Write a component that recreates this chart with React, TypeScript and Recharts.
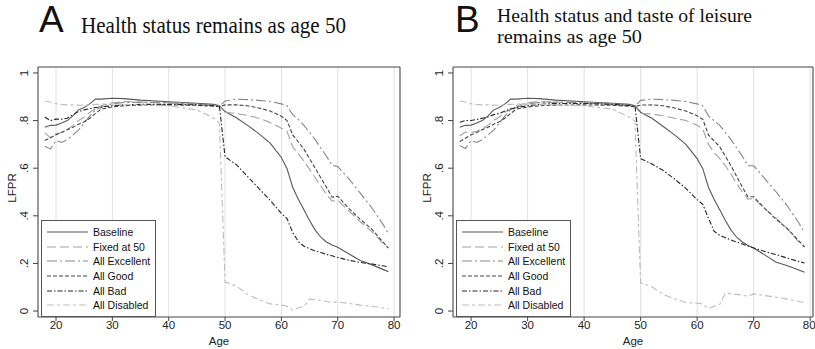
import { CartesianGrid, Legend, Line, LineChart, ReferenceArea, XAxis, YAxis } from "recharts";

// ages where the simulated series are sampled
const AGES = [18, 19, 20, 21, 22, 23, 24, 25, 26, 27, 28, 30, 32, 35, 40, 45, 48, 49, 50, 52, 54, 56, 58, 60, 61, 62, 63, 64, 65, 66, 67, 68, 69, 70, 72, 74, 76, 78, 79];

// panel A: health status held at age-50 level
const BASELINE_A = [0.772, 0.78, 0.781, 0.79, 0.8, 0.82, 0.845, 0.855, 0.87, 0.89, 0.89, 0.894, 0.892, 0.886, 0.879, 0.873, 0.868, 0.862, 0.838, 0.812, 0.78, 0.745, 0.705, 0.645, 0.598, 0.52, 0.47, 0.425, 0.38, 0.34, 0.31, 0.29, 0.277, 0.268, 0.24, 0.212, 0.195, 0.175, 0.165];
const FIXED_A = [0.748, 0.728, 0.745, 0.75, 0.762, 0.78, 0.8, 0.815, 0.835, 0.85, 0.862, 0.875, 0.88, 0.878, 0.875, 0.87, 0.864, 0.86, 0.835, 0.83, 0.822, 0.81, 0.792, 0.768, 0.755, 0.69, 0.66, 0.63, 0.595, 0.56, 0.525, 0.49, 0.462, 0.465, 0.42, 0.375, 0.335, 0.285, 0.263];
const EXCELLENT_A = [0.692, 0.68, 0.716, 0.708, 0.72, 0.74, 0.76, 0.79, 0.82, 0.845, 0.855, 0.87, 0.876, 0.877, 0.874, 0.869, 0.864, 0.86, 0.882, 0.89, 0.888, 0.885, 0.88, 0.87, 0.862, 0.825, 0.805, 0.78, 0.75, 0.72, 0.685, 0.65, 0.612, 0.607, 0.555, 0.495, 0.435, 0.365, 0.325];
const GOOD_A = [0.716, 0.728, 0.74, 0.75, 0.762, 0.772, 0.785, 0.795, 0.81, 0.83, 0.848, 0.857, 0.862, 0.865, 0.866, 0.864, 0.86, 0.858, 0.866, 0.866, 0.862, 0.853, 0.84, 0.818, 0.8, 0.74, 0.71, 0.68, 0.64, 0.6, 0.56, 0.52, 0.478, 0.482, 0.43, 0.385, 0.345, 0.29, 0.265];
const BAD_A = [0.815, 0.8, 0.806, 0.806, 0.81, 0.825, 0.838, 0.845, 0.85, 0.855, 0.857, 0.862, 0.866, 0.868, 0.868, 0.866, 0.862, 0.86, 0.648, 0.615, 0.565, 0.515, 0.465, 0.41, 0.388, 0.33, 0.292, 0.272, 0.262, 0.252, 0.246, 0.238, 0.232, 0.225, 0.213, 0.204, 0.198, 0.19, 0.186];
const DISABLED_A = [0.882, 0.878, 0.871, 0.868, 0.866, 0.866, 0.865, 0.864, 0.866, 0.868, 0.869, 0.87, 0.868, 0.866, 0.862, 0.845, 0.81, 0.79, 0.122, 0.105, 0.07, 0.048, 0.03, 0.025, 0.02, 0.004, 0.014, 0.02, 0.05, 0.048, 0.044, 0.04, 0.036, 0.038, 0.032, 0.025, 0.02, 0.013, 0.01];

// panel B: health status and taste of leisure held at age-50 level
const BASELINE_B = [0.772, 0.78, 0.781, 0.79, 0.8, 0.82, 0.845, 0.855, 0.87, 0.89, 0.89, 0.894, 0.892, 0.886, 0.879, 0.873, 0.868, 0.862, 0.835, 0.81, 0.775, 0.74, 0.7, 0.64, 0.598, 0.52, 0.47, 0.425, 0.38, 0.34, 0.31, 0.29, 0.275, 0.265, 0.235, 0.205, 0.19, 0.172, 0.163];
const FIXED_B = [0.736, 0.752, 0.75, 0.755, 0.765, 0.78, 0.8, 0.815, 0.835, 0.85, 0.862, 0.875, 0.88, 0.878, 0.875, 0.87, 0.864, 0.86, 0.83, 0.828, 0.82, 0.81, 0.8, 0.78, 0.765, 0.7, 0.665, 0.64, 0.61, 0.575, 0.535, 0.5, 0.47, 0.472, 0.43, 0.39, 0.345, 0.29, 0.268];
const EXCELLENT_B = [0.695, 0.683, 0.716, 0.708, 0.72, 0.74, 0.76, 0.79, 0.82, 0.845, 0.855, 0.87, 0.876, 0.877, 0.874, 0.869, 0.864, 0.86, 0.885, 0.89, 0.888, 0.885, 0.88, 0.87, 0.862, 0.82, 0.8, 0.78, 0.75, 0.72, 0.685, 0.65, 0.61, 0.61, 0.555, 0.5, 0.44, 0.37, 0.328];
const GOOD_B = [0.712, 0.726, 0.74, 0.75, 0.762, 0.772, 0.785, 0.795, 0.81, 0.83, 0.848, 0.857, 0.862, 0.865, 0.866, 0.864, 0.86, 0.858, 0.865, 0.866, 0.862, 0.853, 0.84, 0.82, 0.805, 0.74, 0.715, 0.69, 0.65, 0.61, 0.565, 0.52, 0.48, 0.48, 0.43, 0.385, 0.345, 0.295, 0.27];
const BAD_B = [0.793, 0.8, 0.8, 0.805, 0.81, 0.815, 0.825, 0.83, 0.84, 0.848, 0.855, 0.862, 0.868, 0.872, 0.872, 0.868, 0.863, 0.862, 0.64, 0.618, 0.59, 0.555, 0.515, 0.468, 0.448, 0.39, 0.335, 0.318, 0.308, 0.298, 0.29, 0.282, 0.273, 0.265, 0.25, 0.237, 0.222, 0.208, 0.202];
const DISABLED_B = [0.882, 0.878, 0.871, 0.868, 0.866, 0.866, 0.865, 0.864, 0.866, 0.868, 0.869, 0.87, 0.868, 0.866, 0.862, 0.848, 0.815, 0.798, 0.118, 0.102, 0.07, 0.052, 0.036, 0.033, 0.03, 0.01, 0.02, 0.028, 0.075, 0.073, 0.07, 0.066, 0.062, 0.072, 0.065, 0.058, 0.05, 0.04, 0.035];

const X_TICKS = [20, 30, 40, 50, 60, 70, 80];
const Y_TICKS = [0, 0.2, 0.4, 0.6, 0.8, 1];
const Y_LABELS = ["0", ".2", ".4", ".6", ".8", "1"];
const Y_DOMAIN: [number, number] = [-0.025, 1.025];
const X_MIN = 16.8;

type SeriesStyle = { key: string; name: string; color: string; dash?: string };

const SERIES: SeriesStyle[] = [
  { key: "baseline", name: "Baseline", color: "#585858" },
  { key: "fixed", name: "Fixed at 50", color: "#a2a2a2", dash: "9 4" },
  { key: "excellent", name: "All Excellent", color: "#878787", dash: "10 3 2 3" },
  { key: "good", name: "All Good", color: "#474747", dash: "4 2" },
  { key: "bad", name: "All Bad", color: "#262626", dash: "5 2 1.5 2" },
  { key: "disabled", name: "All Disabled", color: "#bdbdbd", dash: "7 3 3 3" },
];

function buildRows(cols: Record<string, number[]>) {
  return AGES.map((age, i) => {
    const row: Record<string, number> = { age };
    for (const k of Object.keys(cols)) row[k] = cols[k][i];
    return row;
  });
}

const DATA_A = buildRows({ baseline: BASELINE_A, fixed: FIXED_A, excellent: EXCELLENT_A, good: GOOD_A, bad: BAD_A, disabled: DISABLED_A });
const DATA_B = buildRows({ baseline: BASELINE_B, fixed: FIXED_B, excellent: EXCELLENT_B, good: GOOD_B, bad: BAD_B, disabled: DISABLED_B });

const SANS = '"Liberation Sans", Arial, Helvetica, sans-serif';
const SERIF = '"Liberation Serif", "Times New Roman", serif';

function YTick({ x, y, payload }: any) {
  const label = Y_LABELS[Y_TICKS.indexOf(payload.value)];
  return (
    <text transform={`translate(${x - 5},${y}) rotate(-90)`} textAnchor="middle" fontSize={11.5} fill="#222" fontFamily={SANS}>
      {label}
    </text>
  );
}

function LegendBox() {
  return (
    <div style={{ border: "1px solid #555", background: "#fff", padding: "4px 0 3px 0", fontFamily: SANS, fontSize: 10.5, color: "#111" }}>
      {SERIES.map((s) => (
        <div key={s.key} style={{ display: "flex", alignItems: "center", height: 14.6 }}>
          <svg width={41} height={6} style={{ marginLeft: 5, marginRight: 5 }}>
            <line x1={0} y1={3} x2={41} y2={3} stroke={s.color} strokeWidth={1.1} strokeDasharray={s.dash} />
          </svg>
          <span>{s.name}</span>
        </div>
      ))}
    </div>
  );
}

type PanelProps = {
  data: Record<string, number>[];
  left: number;
  width: number;
  xMax: number;
  marginLeft: number;
  marginRight: number;
};

function Panel({ data, left, width, xMax, marginLeft, marginRight }: PanelProps) {
  return (
    <div style={{ position: "absolute", left, top: 0 }}>
      <LineChart width={width} height={349} data={data} margin={{ top: 67, right: marginRight, bottom: 0, left: marginLeft }}>
        <CartesianGrid horizontal={false} stroke="#e0e0e0" />
        <XAxis
          type="number"
          dataKey="age"
          domain={[X_MIN, xMax]}
          ticks={X_TICKS}
          allowDataOverflow
          height={32}
          axisLine={false}
          tickSize={4}
          tickMargin={0}
          tickLine={{ stroke: "#444" }}
          tick={{ fill: "#222", fontSize: 11.5, fontFamily: SANS }}
          label={{ value: "Age", position: "insideBottom", offset: 4, fill: "#222", fontSize: 11.5, fontFamily: SANS }}
        />
        <YAxis
          type="number"
          domain={Y_DOMAIN}
          ticks={Y_TICKS}
          allowDataOverflow
          width={30}
          axisLine={false}
          tickSize={5}
          tickMargin={0}
          tickLine={{ stroke: "#444" }}
          tick={<YTick />}
        />
        {SERIES.map((s) => (
          <Line
            key={s.key}
            dataKey={s.key}
            name={s.name}
            type="linear"
            stroke={s.color}
            strokeWidth={1.1}
            strokeDasharray={s.dash}
            dot={false}
            activeDot={false}
            isAnimationActive={false}
          />
        ))}
        <ReferenceArea x1={X_MIN} x2={xMax} y1={Y_DOMAIN[0]} y2={Y_DOMAIN[1]} fill="none" stroke="#444" strokeWidth={1} ifOverflow="visible" />
        <Legend
          layout="vertical"
          align="center"
          verticalAlign="middle"
          content={() => <LegendBox />}
          wrapperStyle={{ left: marginLeft + 33, top: 220, width: 115 }}
        />
      </LineChart>
    </div>
  );
}

export default function App() {
  return (
    <div style={{ position: "absolute", left: 0, top: 0, width: 815, height: 349, background: "#fff", overflow: "hidden" }}>
      <Panel data={DATA_A} left={0} width={410} xMax={81.05} marginLeft={8} marginRight={10} />
      <Panel data={DATA_B} left={410} width={405} xMax={80.5} marginLeft={13} marginRight={2} />
      <svg width={815} height={349} style={{ position: "absolute", left: 0, top: 0, pointerEvents: "none" }}>
        <text x={39} y={32} fontFamily={SANS} fontSize={37} fill="#111">A</text>
        <text x={81} y={33} fontFamily={SERIF} fontSize={23} fill="#111" textLength={265} lengthAdjust="spacingAndGlyphs">
          Health status remains as age 50
        </text>
        <text x={455} y={32} fontFamily={SANS} fontSize={37} fill="#111">B</text>
        <text x={497} y={22} fontFamily={SERIF} fontSize={19} fill="#111" textLength={255} lengthAdjust="spacingAndGlyphs">
          Health status and taste of leisure
        </text>
        <text x={497} y={43} fontFamily={SERIF} fontSize={19} fill="#111" textLength={145} lengthAdjust="spacingAndGlyphs">
          remains as age 50
        </text>
        <text transform="translate(16,188) rotate(-90)" textAnchor="middle" fontFamily={SANS} fontSize={11.5} fill="#222">LFPR</text>
        <text transform="translate(431,188) rotate(-90)" textAnchor="middle" fontFamily={SANS} fontSize={11.5} fill="#222">LFPR</text>
      </svg>
    </div>
  );
}
